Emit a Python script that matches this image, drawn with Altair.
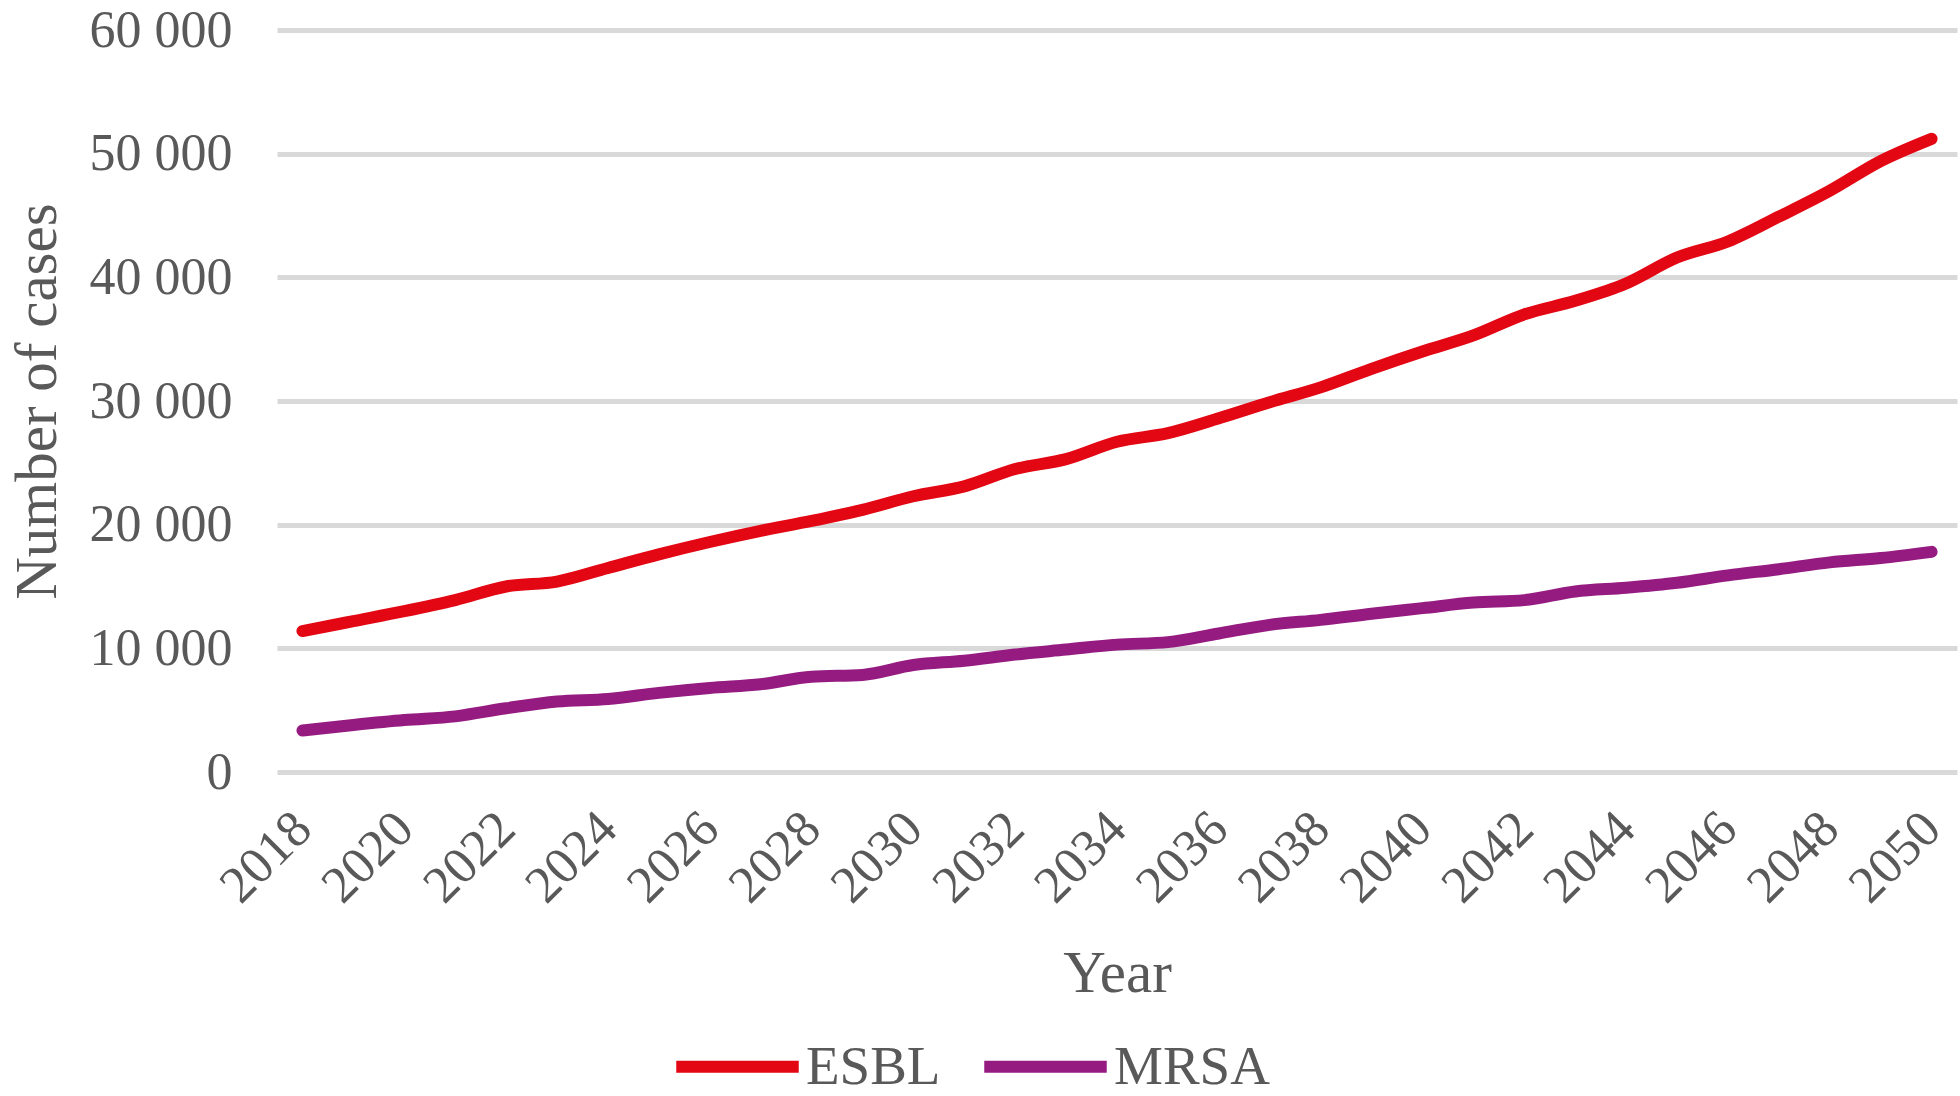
import altair as alt
import pandas as pd

# Projected annual cases, 2018-2050
years = list(range(2018, 2051))
esbl = [11400, 12200, 13000, 13900, 15000, 15400, 16500, 17600, 18600, 19500,
        20300, 21200, 22300, 23100, 24500, 25300, 26700, 27400, 28600, 29900,
        31100, 32600, 34000, 35300, 37000, 38100, 39500, 41600, 42900, 44900,
        47000, 49400, 51200]
mrsa = [3350, 3800, 4200, 4500, 5150, 5700, 5900, 6400, 6800, 7100,
        7700, 7850, 8650, 9000, 9500, 9900, 10300, 10500, 11200, 11900,
        12300, 12800, 13250, 13700, 13900, 14600, 14900, 15300, 15900, 16400,
        16950, 17300, 17800]
series_names = ["ESBL", "MRSA"]
series_colors = ["#E30613", "#951B81"]
tick_years = years[::2]

df = pd.DataFrame(
    {"Year": years * 2,
     "Cases": esbl + mrsa,
     "Series": ["ESBL"] * len(years) + ["MRSA"] * len(years)}
)

FONT = "Liberation Serif"
TEXT = "#595959"

chart = (
    alt.Chart(df)
    .mark_line(strokeWidth=12, strokeCap="round", strokeJoin="round", interpolate="monotone")
    .encode(
        x=alt.X(
            "Year:O",
            scale=alt.Scale(type="point", padding=0.5),
            axis=alt.Axis(
                values=tick_years,
                labelAngle=-45,
                labelAlign="right",
                labelBaseline="middle",
                labelPadding=48,
                labelFont=FONT,
                labelFontSize=52,
                labelColor=TEXT,
                ticks=False,
                tickSize=0,
                domain=False,
                grid=False,
                title="Year",
                titleFont=FONT,
                titleFontSize=59,
                titleFontWeight="normal",
                titleColor=TEXT,
                titleBaseline="alphabetic",
                titleY=219,
            ),
        ),
        y=alt.Y(
            "Cases:Q",
            scale=alt.Scale(domain=[0, 60000], nice=False),
            axis=alt.Axis(
                values=[0, 10000, 20000, 30000, 40000, 50000, 60000],
                labelExpr="replace(format(datum.value, ','), ',', ' ')",
                labelFont=FONT,
                labelFontSize=52,
                labelColor=TEXT,
                labelPadding=45,
                ticks=False,
                tickSize=0,
                domain=False,
                grid=True,
                gridColor="#D9D9D9",
                gridWidth=5,
                title="Number of cases",
                titleFont=FONT,
                titleFontSize=59,
                titleFontWeight="normal",
                titleColor=TEXT,
                titleAngle=-90,
                titleAlign="center",
                titleBaseline="middle",
                titleX=-240,
                titleY=371,
            ),
        ),
        color=alt.Color(
            "Series:N",
            scale=alt.Scale(domain=series_names, range=series_colors),
            legend=alt.Legend(
                title=None,
                orient="none",
                direction="horizontal",
                legendX=393,
                legendY=969,
                symbolType="stroke",
                symbolSize=15000,
                symbolStrokeWidth=12,
                labelFont=FONT,
                labelFontSize=55,
                labelColor=TEXT,
                labelOffset=1,
                columnPadding=19,
            ),
        ),
    )
    .properties(
        width=1680,
        height=742,
        autosize=alt.AutoSizeParams(type="none"),
        padding={"left": 277, "top": 30, "right": 3, "bottom": 324},
        background="white",
    )
    .configure_view(stroke=None)
)

chart.save("out.html", embed_options={"renderer": "svg", "actions": False})
